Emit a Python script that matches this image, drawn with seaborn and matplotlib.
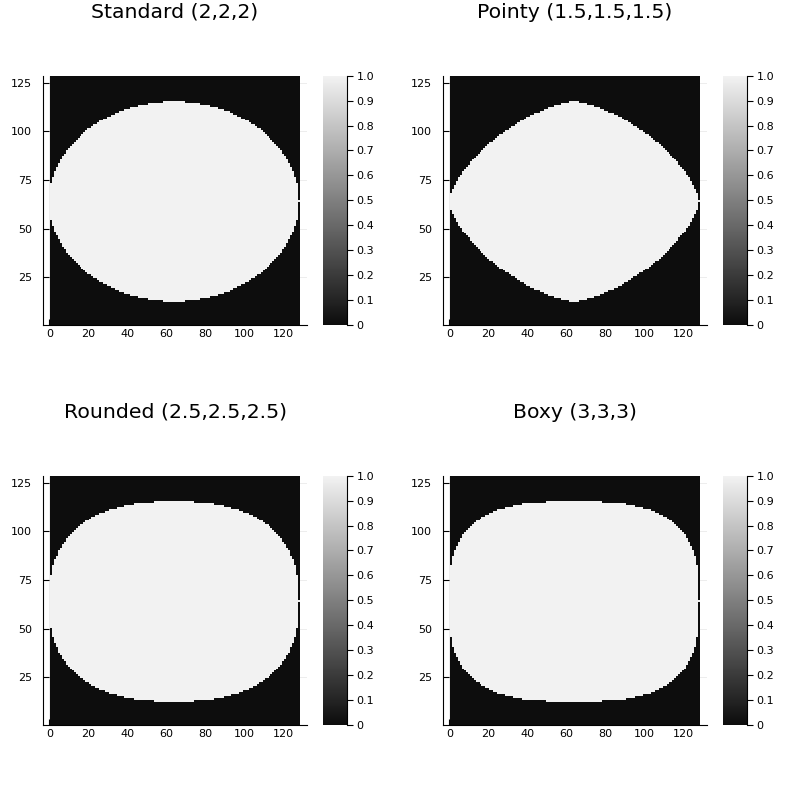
import numpy as np
import matplotlib
matplotlib.use("Agg")
import matplotlib.pyplot as plt
from matplotlib.colors import LinearSegmentedColormap
import seaborn as sns

# one superellipse mask per panel, exponents from the titles
TITLES = ["Standard (2,2,2)", "Pointy (1.5,1.5,1.5)",
          "Rounded (2.5,2.5,2.5)", "Boxy (3,3,3)"]
EXPONENTS = [2.0, 1.5, 2.5, 3.0]
GRID_SIZE = 128
CENTER = (64, 64)
SEMI_AXES = (64, 51.2)

X_TICKS = [0, 20, 40, 60, 80, 100, 120]
Y_TICKS = [25, 50, 75, 100, 125]
CBAR_TICKS = [0, 0.1, 0.2, 0.3, 0.4, 0.5, 0.6, 0.7, 0.8, 0.9, 1.0]
CBAR_LABELS = ["0", "0.1", "0.2", "0.3", "0.4", "0.5", "0.6", "0.7", "0.8", "0.9", "1.0"]


def make_mask(n):
    xs = np.arange(1, GRID_SIZE + 1)
    X, Y = np.meshgrid(xs, xs)
    r = (np.abs((X - CENTER[0]) / SEMI_AXES[0]) ** n
         + np.abs((Y - CENTER[1]) / SEMI_AXES[1]) ** n)
    return (r <= 1).astype(float)


cmap = LinearSegmentedColormap.from_list("grays", ["#0d0d0d", "#f2f2f2"])

fig = plt.figure(figsize=(7.98, 8.0), dpi=100)

W, H = 798, 800
panel_w, panel_h = 263.4 / W, 249.3 / H
cbar_dx, cbar_w = 280.0 / W, 23.4 / W
origins = [(43.3, 325.0), (443.3, 325.0), (43.3, 725.0), (443.3, 725.0)]
title_y = [1 - 12.5 / H, 1 - 12.5 / H, 1 - 412.5 / H, 1 - 412.5 / H]

for i, (title, n) in enumerate(zip(TITLES, EXPONENTS)):
    left = origins[i][0] / W
    bottom = 1 - origins[i][1] / H
    ax = fig.add_axes([left, bottom, panel_w, panel_h])
    cax = fig.add_axes([left + cbar_dx, bottom, cbar_w, panel_h])

    mask = make_mask(n)
    sns.heatmap(mask, ax=ax, cmap=cmap, vmin=0, vmax=1, cbar_ax=cax,
                xticklabels=False, yticklabels=False)

    # heatmap cells sit at [k, k+1], real coordinate is k + 0.5
    ax.set_xlim(-3.6, 131.6)
    ax.set_ylim(0, 128)
    ax.set_xticks([t - 0.5 for t in X_TICKS])
    ax.set_xticklabels([str(t) for t in X_TICKS], rotation=0)
    ax.set_yticks([t - 0.5 for t in Y_TICKS])
    ax.set_yticklabels([str(t) for t in Y_TICKS], rotation=0)
    ax.tick_params(axis="both", direction="in", length=4, width=0.8,
                   labelsize=8, colors="black")
    ax.tick_params(axis="y", pad=8)
    ax.tick_params(axis="x", pad=3)
    for side in ["left", "bottom"]:
        ax.spines[side].set_visible(True)
        ax.spines[side].set_color("black")
        ax.spines[side].set_linewidth(0.8)
    ax.set_axisbelow(True)
    ax.grid(True, color="black", alpha=0.1, linewidth=0.5)
    ax.set_xlabel("")
    ax.set_ylabel("")

    cax.set_yticks(CBAR_TICKS)
    cax.set_yticklabels(CBAR_LABELS)
    cax.tick_params(axis="y", direction="out", length=4, width=0.8,
                    labelsize=8, pad=3, colors="black")
    cax.spines["right"].set_visible(True)
    cax.spines["right"].set_color("black")
    cax.spines["right"].set_linewidth(0.8)

    fig.text(left + panel_w / 2, title_y[i], title, ha="center", va="center",
             fontsize=14.7)

fig.savefig("out.png", dpi=100)
